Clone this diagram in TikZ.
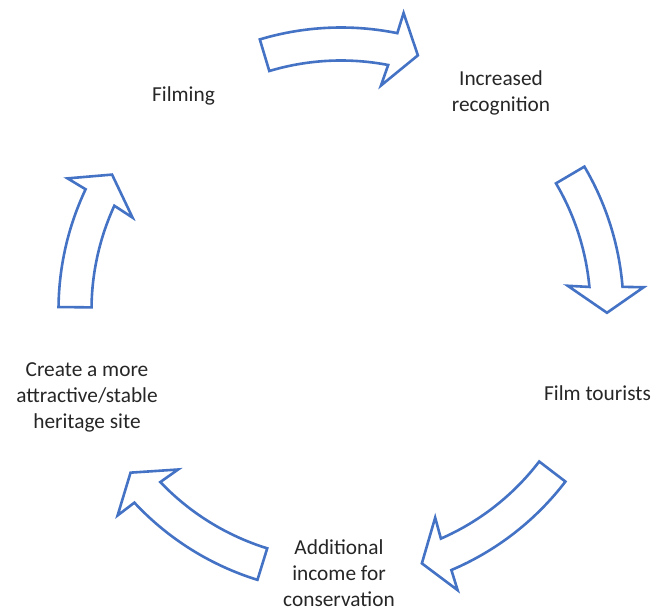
\documentclass[tikz,border=0pt]{standalone}
\usepackage{fontspec}
\setmainfont{Carlito}
\usetikzlibrary{calc}
\definecolor{cycleblue}{HTML}{4472C4}
\tikzset{
  x=1pt, y=1pt,
  stagelabel/.style={align=center, inner sep=0pt, anchor=base,
    font=\fontsize{21.33}{26}\selectfont, text=black!85},
  cyclearrowline/.style={draw=cycleblue, line width=2.6pt, fill=white, line join=miter},
}
% Curved block arrow around the cycle centre, running clockwise
% from angle #1 (tail) to angle #2 (tip).
\newcommand\cyclearrow[2]{%
  \pgfmathsetmacro\tl{#1}%
  \pgfmathsetmacro\tp{#2}%
  \pgfmathsetmacro\ono{\tp+5.3}%
  \pgfmathsetmacro\oco{\tp+4.9}%
  \pgfmathsetmacro\ico{\tp+6.7}%
  \pgfmathsetmacro\ino{\tp+5.9}%
  \draw[cyclearrowline]
    ($(ctr)+(\tl:249.5)$) -- ($(ctr)+(\tl:282.5)$)
    arc[start angle=\tl, end angle=\ono, radius=282.5]
    -- ($(ctr)+(\oco:303.5)$) -- ($(ctr)+(\tp:266)$)
    -- ($(ctr)+(\ico:228)$) -- ($(ctr)+(\ino:249.5)$)
    arc[start angle=\ino, end angle=\tl, radius=249.5] -- cycle;
}
\begin{document}
\begin{tikzpicture}
\useasboundingbox (0,0) rectangle (651,612);
\coordinate (ctr) at (341,302);

% stage labels (base anchor = baseline of the last line)
\node[stagelabel] (filming) at (183.5,510.3) {Filming};
\node[stagelabel] (recog) at (501,500.3) {Increased\\recognition};
\node[stagelabel] (tourists) at (597.5,211) {Film tourists};
\node[stagelabel] (income) at (339,5.5) {Additional\\income for\\conservation};
\node[stagelabel] (site) at (87,183) {Create a more\\attractive/stable\\heritage site};

% arrows between the stages
\cyclearrow{106.7}{73.2}
\cyclearrow{30.5}{-0.6}
\cyclearrow{-37.4}{-72.3}
\cyclearrow{-107.2}{-142.3}
\cyclearrow{179.4}{149.4}
\end{tikzpicture}
\end{document}
